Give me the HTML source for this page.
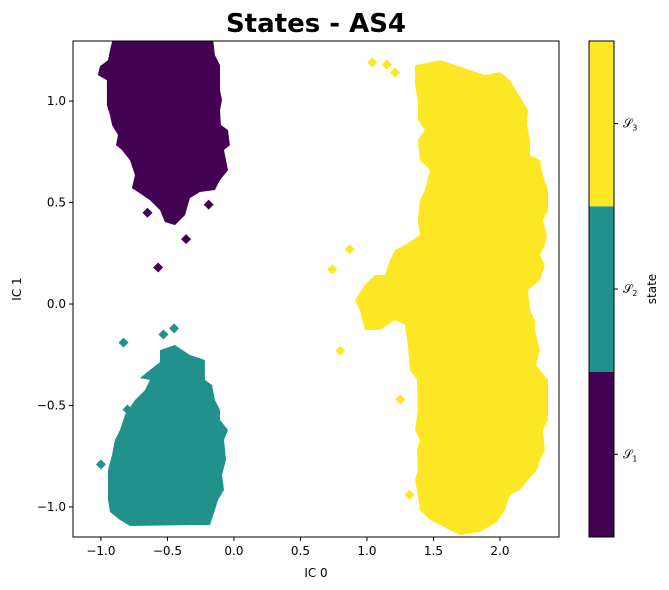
<!DOCTYPE html>
<html><head><meta charset="utf-8"><style>
body{margin:0;background:#fff;}
svg{display:block;font-family:"DejaVu Sans","Liberation Sans",sans-serif;}
</style></head><body>
<svg id="chart" width="669" height="590" viewBox="0 0 669 590" xmlns="http://www.w3.org/2000/svg">
<defs><clipPath id="plotclip"><rect x="73" y="41" width="486" height="496"/></clipPath></defs>
<text x="316" y="32" text-anchor="middle" font-size="26" font-weight="bold">States - AS4</text>
<g id="marks" clip-path="url(#plotclip)"></g>
<rect x="73" y="41" width="486" height="496" fill="none" stroke="#000" stroke-width="1"/>
<g id="axes"></g>
<text x="316" y="577" text-anchor="middle" font-size="12">IC 0</text>
<text x="21" y="289" text-anchor="middle" font-size="12" transform="rotate(-90 21 289)">IC 1</text>
<g id="colorbar"></g>
<text x="656" y="289" text-anchor="middle" font-size="12" transform="rotate(-90 656 289)">state</text>
</svg>
<script>
const xTicks = [-1.0, -0.5, 0.0, 0.5, 1.0, 1.5, 2.0];
const yTicks = [-1.0, -0.5, 0.0, 0.5, 1.0];
const stateNames = ["1", "2", "3"];
const stateColors = ["#440154", "#21918c", "#fde725"];
const purpleBlob = [[-0.895,1.35],[-0.165,1.35],[-0.143,1.227],[-0.105,1.177],[-0.105,1.054],[-0.090,1.005],[-0.105,0.956],[-0.098,0.882],[-0.045,0.857],[-0.030,0.783],[-0.075,0.759],[-0.045,0.660],[-0.105,0.611],[-0.143,0.562],[-0.256,0.552],[-0.331,0.522],[-0.368,0.438],[-0.444,0.389],[-0.519,0.404],[-0.556,0.463],[-0.632,0.512],[-0.722,0.552],[-0.767,0.571],[-0.744,0.635],[-0.782,0.709],[-0.842,0.759],[-0.887,0.783],[-0.872,0.833],[-0.917,0.882],[-0.932,0.931],[-0.955,0.980],[-0.955,1.103],[-1.023,1.128],[-1.008,1.172],[-0.947,1.202],[-0.932,1.251]];
const tealBlob = [[-0.556,-0.227],[-0.444,-0.202],[-0.331,-0.251],[-0.218,-0.276],[-0.218,-0.374],[-0.165,-0.399],[-0.143,-0.473],[-0.105,-0.522],[-0.105,-0.571],[-0.045,-0.621],[-0.075,-0.670],[-0.060,-0.768],[-0.090,-0.842],[-0.075,-0.916],[-0.120,-0.966],[-0.143,-1.015],[-0.180,-1.089],[-0.293,-1.089],[-0.782,-1.094],[-0.857,-1.064],[-0.932,-1.025],[-0.947,-0.966],[-0.947,-0.818],[-0.917,-0.744],[-0.895,-0.670],[-0.857,-0.621],[-0.820,-0.547],[-0.744,-0.473],[-0.669,-0.424],[-0.632,-0.374],[-0.707,-0.365],[-0.632,-0.325],[-0.556,-0.286]];
const yellowBlob = [[1.361,1.177],[1.549,1.202],[1.624,1.187],[1.774,1.153],[1.887,1.128],[2.000,1.143],[2.075,1.103],[2.165,1.005],[2.211,0.956],[2.203,0.882],[2.226,0.808],[2.226,0.734],[2.301,0.709],[2.323,0.635],[2.361,0.562],[2.361,0.463],[2.323,0.414],[2.353,0.340],[2.338,0.291],[2.301,0.241],[2.338,0.192],[2.301,0.118],[2.211,0.069],[2.226,-0.030],[2.263,-0.079],[2.263,-0.128],[2.301,-0.227],[2.271,-0.300],[2.361,-0.374],[2.361,-0.571],[2.323,-0.621],[2.338,-0.719],[2.301,-0.768],[2.278,-0.818],[2.211,-0.867],[2.150,-0.916],[2.075,-0.941],[2.038,-1.015],[1.977,-1.074],[1.850,-1.123],[1.699,-1.138],[1.549,-1.089],[1.474,-1.064],[1.398,-1.015],[1.383,-0.941],[1.361,-0.867],[1.383,-0.818],[1.376,-0.719],[1.398,-0.670],[1.361,-0.621],[1.383,-0.522],[1.376,-0.374],[1.323,-0.325],[1.308,-0.202],[1.286,-0.103],[1.211,-0.079],[1.098,-0.128],[0.985,-0.128],[0.947,-0.030],[0.910,0.020],[0.985,0.094],[1.060,0.143],[1.135,0.143],[1.173,0.217],[1.211,0.266],[1.286,0.291],[1.398,0.340],[1.383,0.414],[1.398,0.512],[1.436,0.562],[1.474,0.660],[1.398,0.709],[1.383,0.808],[1.436,0.857],[1.383,0.906],[1.383,1.005],[1.361,1.079]];
const purpleFrags = [[-0.57,0.18],[-0.36,0.32],[-0.19,0.49],[-0.65,0.45]];
const tealFrags = [[-0.53,-0.15],[-0.83,-0.19],[-1.0,-0.79],[-0.80,-0.52],[-0.45,-0.12]];
const yellowFrags = [[1.04,1.19],[1.21,1.14],[0.87,0.27],[0.74,0.17],[0.80,-0.23],[1.25,-0.47],[1.32,-0.94],[1.15,1.18]];

const NS = "http://www.w3.org/2000/svg";
const X0 = 73, X1 = 559, Y0 = 41, Y1 = 537;
const xMin = -1.21, xMax = 2.444, yMin = -1.148, yMax = 1.296;
function sx(v){ return X0 + (v - xMin) / (xMax - xMin) * (X1 - X0); }
function sy(v){ return Y1 - (v - yMin) / (yMax - yMin) * (Y1 - Y0); }
function fmt(v){ return (v < 0 ? "\u2212" : "") + Math.abs(v).toFixed(1); }

const marks = document.getElementById("marks");
function blob(pts, color, name){
  const p = document.createElementNS(NS, "polygon");
  p.setAttribute("points", pts.map(d => sx(d[0]).toFixed(1) + "," + sy(d[1]).toFixed(1)).join(" "));
  p.setAttribute("fill", color);
  
  
  marks.appendChild(p);
}
function frags(pts, color, name){
  pts.forEach(d => {
    const cx = sx(d[0]), cy = sy(d[1]);
    const p = document.createElementNS(NS, "polygon");
    p.setAttribute("points", `${cx-5},${cy} ${cx},${cy-5} ${cx+5},${cy} ${cx},${cy+5}`);
    p.setAttribute("fill", color);
    
    
    marks.appendChild(p);
  });
}
blob(purpleBlob, stateColors[0], "state-1-region");
blob(tealBlob, stateColors[1], "state-2-region");
blob(yellowBlob, stateColors[2], "state-3-region");
frags(purpleFrags, stateColors[0], "state-1-fragment");
frags(tealFrags, stateColors[1], "state-2-fragment");
frags(yellowFrags, stateColors[2], "state-3-fragment");

const axes = document.getElementById("axes");
xTicks.forEach(v => {
  const x = sx(v);
  const l = document.createElementNS(NS, "line");
  l.setAttribute("x1", x); l.setAttribute("x2", x); l.setAttribute("y1", Y1); l.setAttribute("y2", Y1 + 4);
  l.setAttribute("stroke", "#000");
  
  
  axes.appendChild(l);
  const t = document.createElementNS(NS, "text");
  t.setAttribute("x", x); t.setAttribute("y", Y1 + 18); t.setAttribute("text-anchor", "middle"); t.setAttribute("font-size", "12");
  t.textContent = fmt(v);
  
  
  axes.appendChild(t);
});
yTicks.forEach(v => {
  const y = sy(v);
  const l = document.createElementNS(NS, "line");
  l.setAttribute("x1", X0 - 4); l.setAttribute("x2", X0); l.setAttribute("y1", y); l.setAttribute("y2", y);
  l.setAttribute("stroke", "#000");
  
  
  axes.appendChild(l);
  const t = document.createElementNS(NS, "text");
  t.setAttribute("x", X0 - 7); t.setAttribute("y", y + 4); t.setAttribute("text-anchor", "end"); t.setAttribute("font-size", "12");
  t.textContent = fmt(v);
  
  
  axes.appendChild(t);
});

const cb = document.getElementById("colorbar");
const CX = 589, CW = 25, CY0 = 41, CY1 = 537;
const segH = (CY1 - CY0) / stateNames.length;
stateNames.forEach((n, i) => {
  const top = CY1 - (i + 1) * segH;
  const r = document.createElementNS(NS, "rect");
  r.setAttribute("x", CX); r.setAttribute("y", top); r.setAttribute("width", CW); r.setAttribute("height", segH);
  r.setAttribute("fill", stateColors[i]);
  
  
  cb.appendChild(r);
  const cy = top + segH / 2;
  const l = document.createElementNS(NS, "line");
  l.setAttribute("x1", CX + CW); l.setAttribute("x2", CX + CW + 4); l.setAttribute("y1", cy); l.setAttribute("y2", cy);
  l.setAttribute("stroke", "#000");
  
  
  cb.appendChild(l);
  const t = document.createElementNS(NS, "text");
  t.setAttribute("x", CX + CW + 9); t.setAttribute("y", cy + 4); t.setAttribute("font-size", "12");
  t.innerHTML = '\u{1D4AE}<tspan font-size="8" dy="3">' + n + '</tspan>';
  
  
  cb.appendChild(t);
});
const fr = document.createElementNS(NS, "rect");
fr.setAttribute("x", CX); fr.setAttribute("y", CY0); fr.setAttribute("width", CW); fr.setAttribute("height", CY1 - CY0);
fr.setAttribute("fill", "none"); fr.setAttribute("stroke", "#000");


cb.appendChild(fr);
</script>
</body></html>
